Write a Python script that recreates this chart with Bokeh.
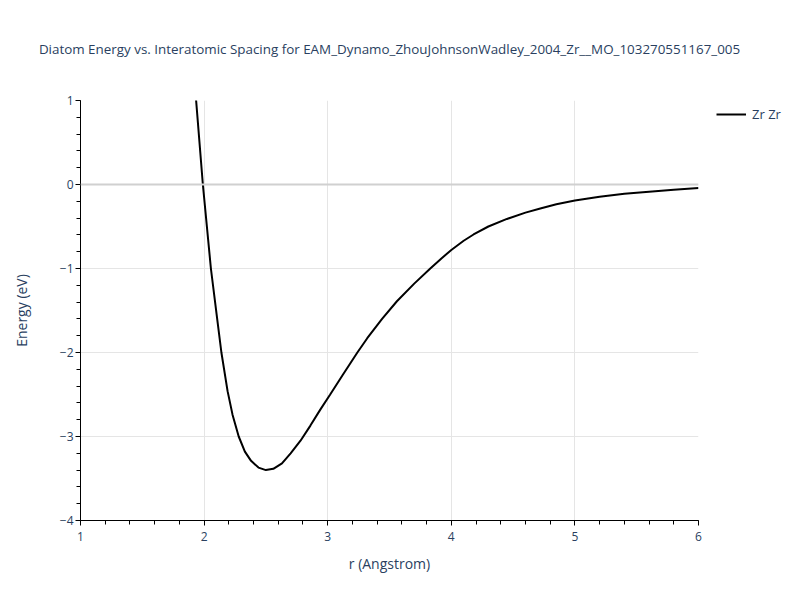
from bokeh.plotting import figure
from bokeh.models import (SingleIntervalTicker, Span, Legend, LegendItem,
                          CustomJSTickFormatter, Range1d, Title)
from bokeh.embed import file_html
from bokeh.resources import INLINE

title_text = "Diatom Energy vs. Interatomic Spacing for EAM_Dynamo_ZhouJohnsonWadley_2004_Zr__MO_103270551167_005"
series_name = "Zr Zr"

r = [1.93, 1.99, 2.055, 2.10, 2.14, 2.19, 2.23, 2.28, 2.33, 2.38, 2.44, 2.50,
     2.56, 2.63, 2.70, 2.78, 2.86, 2.94, 3.02, 3.12, 3.24, 3.32, 3.44, 3.56,
     3.70, 3.83, 3.92, 4.00, 4.10, 4.18, 4.30, 4.45, 4.60, 4.72, 4.85, 5.00,
     5.20, 5.40, 5.60, 5.80, 6.00]
energy = [1.10, 0.00, -1.00, -1.53, -2.00, -2.46, -2.74, -3.00, -3.18, -3.29,
          -3.37, -3.40, -3.385, -3.32, -3.20, -3.05, -2.87, -2.68, -2.50, -2.27,
          -2.00, -1.83, -1.60, -1.39, -1.18, -1.00, -0.88, -0.78, -0.67, -0.595,
          -0.50, -0.41, -0.335, -0.285, -0.235, -0.19, -0.145, -0.11, -0.085,
          -0.062, -0.043]

FONT = "Open Sans"
TXT = "#2a3f5f"

p = figure(frame_width=618, frame_height=420, output_backend="svg",
           toolbar_location=None,
           x_range=Range1d(1, 6), y_range=Range1d(-4, 1),
           min_border_left=80, min_border_right=86, min_border_top=100,
           min_border_bottom=64)
p.outline_line_color = None
p.background_fill_color = "white"
p.border_fill_color = "white"

p.title.text = title_text
p.title.align = "center"
p.title.text_font = FONT
p.title.text_font_size = "13.4px"
p.title.text_font_style = "normal"
p.title.text_color = TXT
p.title.standoff = 10

# white spacer between the title and the plot frame
spacer = Title(text=".", text_font_size="10px", standoff=28, text_color="white")
p.add_layout(spacer, "above")

for ax in (p.xaxis[0], p.yaxis[0]):
    ax.ticker = SingleIntervalTicker(interval=1, num_minor_ticks=5)
    ax.axis_line_color = "black"
    ax.axis_line_width = 1
    ax.major_tick_line_color = "black"
    ax.minor_tick_line_color = "black"
    ax.major_tick_out = 5
    ax.major_tick_in = 0
    ax.minor_tick_out = 4
    ax.minor_tick_in = 0
    ax.major_label_text_font = FONT
    ax.major_label_text_font_size = "12px"
    ax.major_label_text_color = TXT
    ax.axis_label_text_font = FONT
    ax.axis_label_text_font_size = "14px"
    ax.axis_label_text_font_style = "normal"
    ax.axis_label_text_color = TXT
    ax.formatter = CustomJSTickFormatter(code="return tick < 0 ? '\\u2212' + Math.abs(tick) : String(tick);")

p.xaxis.axis_label = "r (Angstrom)"
p.yaxis.axis_label = "Energy (eV)"
p.xaxis.major_label_standoff = 6
p.xaxis.axis_label_standoff = 10
p.yaxis.major_label_standoff = 2
p.yaxis.axis_label_standoff = 26

p.xgrid.grid_line_color = "#e5e5e5"
p.ygrid.grid_line_color = "#e5e5e5"
p.xgrid.ticker = SingleIntervalTicker(interval=1)
p.ygrid.ticker = SingleIntervalTicker(interval=1)

zero = Span(location=0, dimension="width", line_color="#d0d0d0", line_width=2)
p.add_layout(zero)

line = p.line(r, energy, line_color="black", line_width=2)

legend = Legend(items=[LegendItem(label=series_name, renderers=[line])],
                border_line_color=None,
                background_fill_alpha=0, label_text_font=FONT,
                label_text_font_size="13px", label_text_color=TXT,
                glyph_width=30, glyph_height=14, label_standoff=6,
                padding=0, margin=0, spacing=0)
legend.location = (18, 397)
p.add_layout(legend, "right")

open("out.html", "w").write(file_html(p, INLINE))
